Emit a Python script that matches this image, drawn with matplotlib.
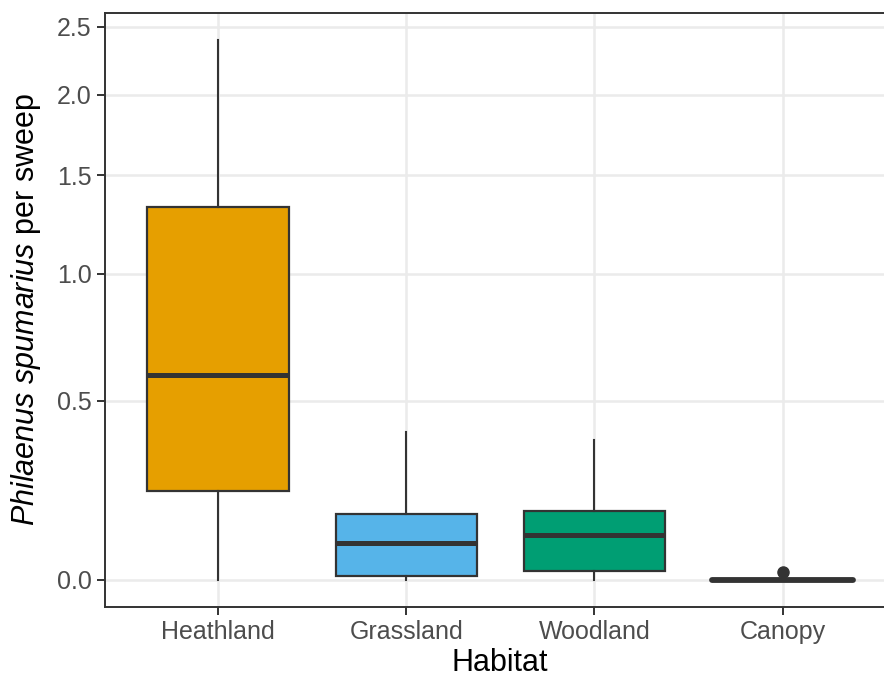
import matplotlib.pyplot as plt
import numpy as np

plt.rcParams['font.family'] = ['Liberation Sans', 'DejaVu Sans']
plt.rcParams['mathtext.fontset'] = 'custom'
plt.rcParams['mathtext.it'] = 'Liberation Sans:italic'
plt.rcParams['mathtext.rm'] = 'Liberation Sans'

# box summaries per habitat (spittlebugs per sweep)
habitats = ["Heathland", "Grassland", "Woodland", "Canopy"]
q1 = [0.222, 0.009, 0.0197, 0.0]
median = [0.592, 0.0864, 0.107, 0.0]
q3 = [1.326, 0.161, 0.168, 0.0]
whisker_lo = [0.0, 0.0, 0.0, 0.0]
whisker_hi = [2.4, 0.397, 0.371, 0.0]
outliers = [[], [], [], [0.0167]]
fill_colors = ["#E69F00", "#56B4E9", "#009E73", "#F0E442"]
y_ticks = [0.0, 0.5, 1.0, 1.5, 2.0, 2.5]

edge = "#333333"

fig = plt.figure(figsize=(8.84, 6.78), dpi=100)
# panel runs a little past the right edge of the canvas
ax = fig.add_axes([105 / 884, (678 - 606.7) / 678, (895.5 - 105) / 884, (606.7 - 12.7) / 678])

ax.set_yscale('function', functions=(np.log1p, np.expm1))

stats = []
for i, name in enumerate(habitats):
    stats.append(dict(label=name, q1=q1[i], med=median[i], q3=q3[i],
                      whislo=whisker_lo[i], whishi=whisker_hi[i],
                      fliers=outliers[i]))

pos = np.arange(1, len(habitats) + 1)
bp = ax.bxp(stats, positions=pos, widths=0.75, patch_artist=True,
            showcaps=False, showfliers=True,
            boxprops=dict(edgecolor=edge, linewidth=1.6),
            whiskerprops=dict(color=edge, linewidth=1.5),
            medianprops=dict(color=edge, linewidth=3.6, solid_capstyle='butt'),
            flierprops=dict(marker='o', markerfacecolor=edge, markeredgecolor=edge,
                            markersize=8, linestyle='none'))
for patch, c in zip(bp['boxes'], fill_colors):
    patch.set_facecolor(c)
    patch.set_zorder(2)
for m in bp['medians']:
    m.set_zorder(3)
# zero-height box: round the ends like a flat ggplot box
bp['medians'][3].set_solid_capstyle('round')
bp['medians'][3].set_linewidth(4.2)
bp['boxes'][3].set_visible(False)

ax.set_xlim(0.4, len(habitats) + 0.6)
lo = np.log1p(0.0)
hi = np.log1p(max(whisker_hi))
pad = 0.05 * (hi - lo)
ax.set_ylim(np.expm1(lo - pad), np.expm1(hi + pad))

ax.set_yticks(y_ticks)
ax.set_yticklabels([f"{t:.1f}" for t in y_ticks])
ax.set_xticks(pos)
ax.set_xticklabels(habitats)
ax.minorticks_off()

ax.grid(True, color="#EBEBEB", linewidth=1.8)
ax.set_axisbelow(True)
for s in ax.spines.values():
    s.set_color(edge)
    s.set_linewidth(1.4)

ax.tick_params(axis='both', colors=edge, length=5.8, width=1.4,
               labelsize=18, labelcolor="#4D4D4D", pad=4)

ax.set_xlabel("Habitat", fontsize=22, color="black", labelpad=3)
ax.set_ylabel(r"$\mathit{Philaenus\ spumarius}$ per sweep", fontsize=22,
              color="black", labelpad=10)

fig.savefig("out.png", dpi=100)
